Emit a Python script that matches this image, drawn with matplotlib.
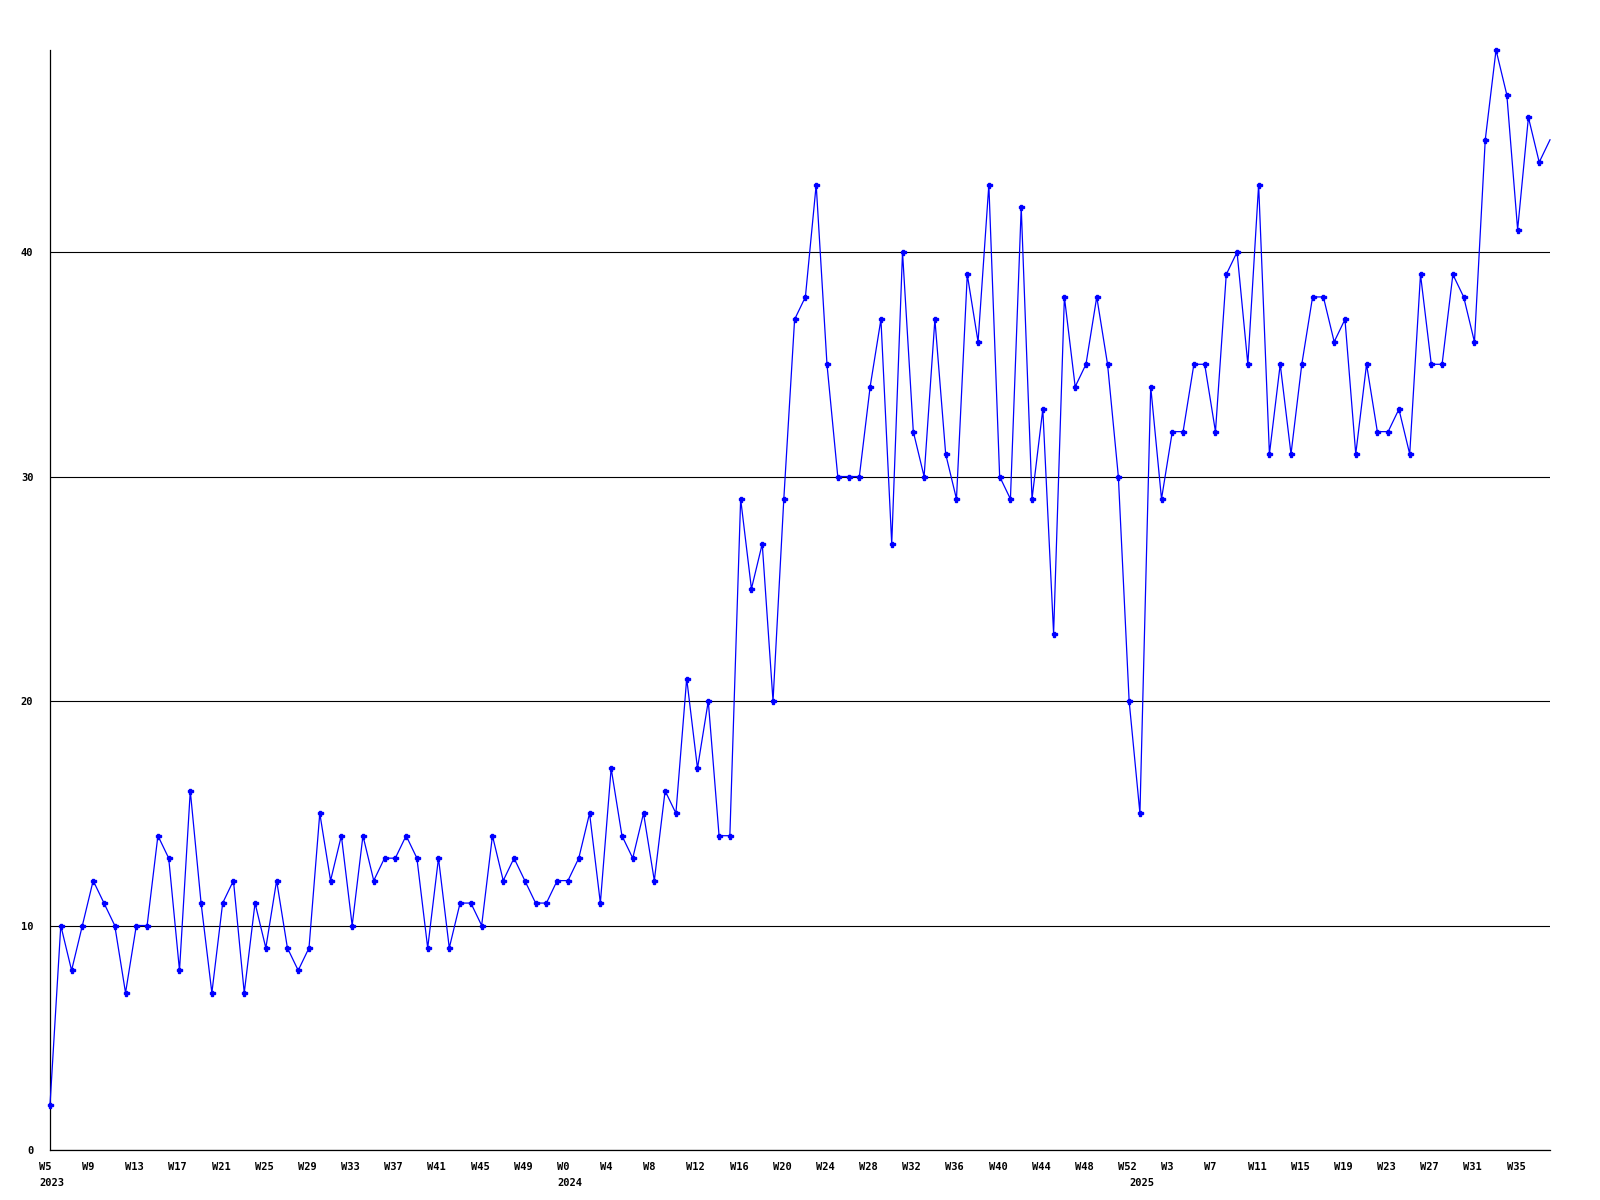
import matplotlib
matplotlib.use("Agg")
import matplotlib.pyplot as plt
from matplotlib.transforms import ScaledTranslation

# ---- data ----
years = [2023] * 48 + [2024] * 53 + [2025] * 39
weeks = list(range(5, 53)) + list(range(0, 53)) + list(range(0, 39))
values = [
    2, 10, 8, 10, 12, 11, 10, 7, 10, 10, 14, 13, 8, 16, 11, 7, 11, 12, 7, 11,
    9, 12, 9, 8, 9, 15, 12, 14, 10, 14, 12, 13, 13, 14, 13, 9, 13, 9, 11, 11,
    10, 14,
    12, 13, 12, 11, 11, 12, 12, 13, 15, 11, 17, 14, 13, 15, 12, 16, 15, 21, 17, 20,
    14, 14, 29, 25, 27, 20,
    29, 37, 38, 43, 35, 30, 30, 30, 34, 37, 27, 40, 32, 30, 37, 31, 29, 39, 36, 43,
    30, 29, 42, 29, 33, 23, 38, 34, 35, 38, 35, 30, 20, 15, 34, 29,
    32, 32, 35, 35, 32, 39, 40, 35, 43, 31, 35, 31, 35, 38, 38, 36, 37, 31, 35, 32,
    32, 33, 31, 39, 35, 35, 39, 38, 36, 45, 49, 47, 41, 46, 44, 45,
]
y_ticks = [0, 10, 20, 30, 40]

n = len(values)
x = list(range(n))

fig = plt.figure(figsize=(16, 12), dpi=100)
ax = fig.add_axes([50 / 1600, 50 / 1200, 1500 / 1600, 1100 / 1200])

ax.plot(x, values, color="#0000ff", lw=0.9, marker="P", ms=3.6,
        markevery=list(range(n - 1)), clip_on=False, zorder=3)

ax.set_xlim(0, n - 1)
ax.set_ylim(0, max(values))

for s in ("top", "right"):
    ax.spines[s].set_visible(False)
for s in ("left", "bottom"):
    ax.spines[s].set_color("black")
    ax.spines[s].set_linewidth(0.9)

ax.set_yticks(y_ticks)
ax.set_yticklabels([str(v) for v in y_ticks])
ax.yaxis.grid(True, color="black", lw=0.8)
ax.set_axisbelow(True)

# week labels every 4 weeks, year labels at first week of each year
maj = list(range(0, n, 4))
ax.set_xticks(maj)
ax.set_xticklabels([f"W{weeks[i]}" for i in maj])
year_idx = [i for i in range(n) if i == 0 or years[i] != years[i - 1]]
ax.set_xticks(year_idx, minor=True)
ax.set_xticklabels([str(years[i]) for i in year_idx], minor=True)
ax.xaxis.remove_overlapping_locs = False

font = dict(family="DejaVu Sans Mono", weight="bold", size=7.5)
ax.tick_params(axis="both", which="both", length=0)
ax.tick_params(axis="x", which="major", pad=9)
ax.tick_params(axis="x", which="minor", pad=20.5)
ax.tick_params(axis="y", pad=12)

offset = ScaledTranslation(-11 / 100, 0, fig.dpi_scale_trans)
for lbl in ax.get_xticklabels(which="both"):
    lbl.set_fontproperties(matplotlib.font_manager.FontProperties(**font))
    lbl.set_ha("left")
    lbl.set_transform(lbl.get_transform() + offset)
for lbl in ax.get_yticklabels():
    lbl.set_fontproperties(matplotlib.font_manager.FontProperties(**font))

fig.savefig("out.png", dpi=100, facecolor="white")
